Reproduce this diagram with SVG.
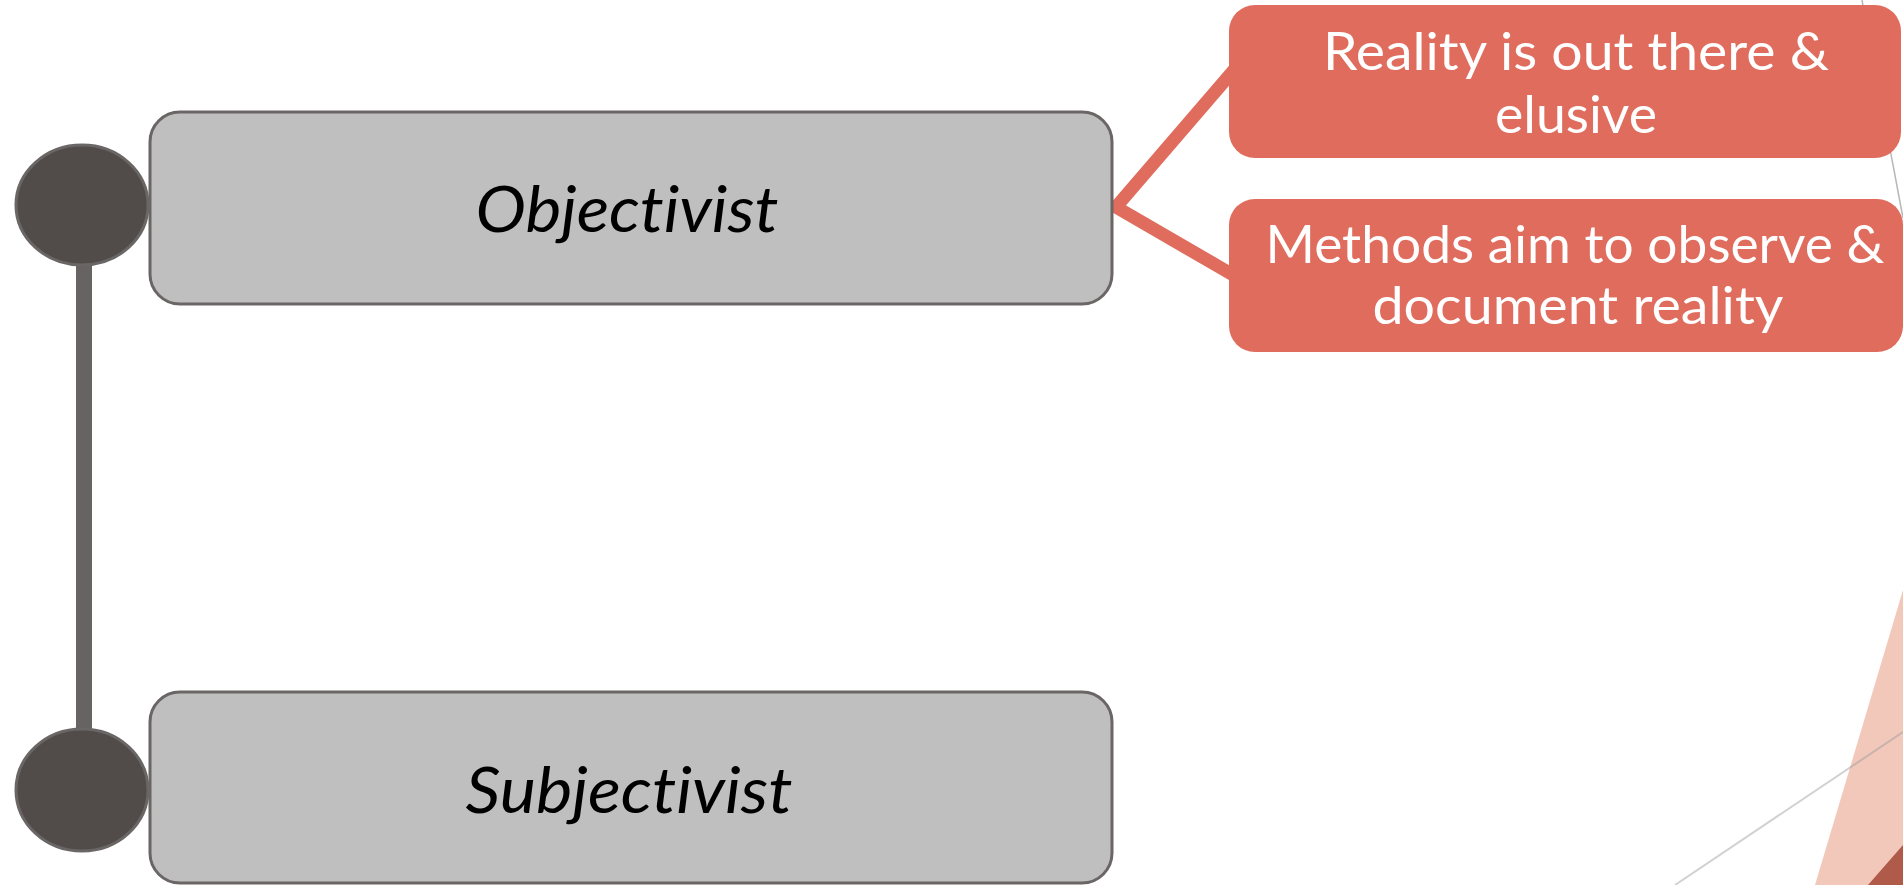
<svg xmlns="http://www.w3.org/2000/svg" width="1903" height="885" viewBox="0 0 1903 885">
  <style>
    .gbox { fill: #bfbfbf; stroke: #6a6665; stroke-width: 3; }
    .dot { fill: #514c4a; stroke: #6a6665; stroke-width: 3; }
    .rbox { fill: #e06c5d; }
    .glabel { font-family: "Lato", "Open Sans", sans-serif; font-style: italic; font-size: 64px; fill: #000000; text-anchor: middle; font-variant-ligatures: none; }
    .rlabel { font-family: "Lato", "Open Sans", sans-serif; font-size: 52px; fill: #ffffff; text-anchor: middle; font-variant-ligatures: none; }
    .redline { fill: none; stroke: #e06c5d; stroke-width: 13; stroke-linejoin: miter; }
  </style>
  <rect x="0" y="0" width="1903" height="885" fill="#ffffff"/>
  <g id="background">
    <line x1="1862" y1="0" x2="1903" y2="218" stroke="#b8b8b8" stroke-width="1.5"/>
    <polygon points="1903,590 1815,885 1903,885" fill="#f2c8bb"/>
    <polygon points="1903,845 1868,885 1903,885" fill="#b05a4a"/>
    <line x1="1903" y1="732" x2="1675" y2="885" stroke="#9a9a9a" stroke-opacity="0.45" stroke-width="2"/>
  </g>
  <g id="connectors">
    <rect x="76" y="262" width="16" height="470" fill="#676362"/>
    <polyline class="redline" points="1240,63 1116,207 1240,279"/>
  </g>
  <g id="node-objectivist-dot">
    <ellipse class="dot" cx="82" cy="205" rx="66" ry="60"/>
  </g>
  <g id="node-subjectivist-dot">
    <ellipse class="dot" cx="82" cy="790" rx="66" ry="61"/>
  </g>
  <g id="node-objectivist">
    <rect class="gbox" x="150" y="112" width="962" height="192" rx="30" ry="30"/>
    <text class="glabel" x="627" y="232" textLength="303" lengthAdjust="spacingAndGlyphs">Objectivist</text>
  </g>
  <g id="node-subjectivist">
    <rect class="gbox" x="150" y="692" width="962" height="191" rx="30" ry="30"/>
    <text class="glabel" x="629" y="813" textLength="327" lengthAdjust="spacingAndGlyphs">Subjectivist</text>
  </g>
  <g id="node-reality">
    <rect class="rbox" x="1229" y="5" width="672" height="153" rx="26" ry="26"/>
    <text class="rlabel" x="1576" y="70" textLength="506" lengthAdjust="spacingAndGlyphs">Reality is out there &amp;</text>
    <text class="rlabel" x="1576" y="133" textLength="162" lengthAdjust="spacingAndGlyphs">elusive</text>
  </g>
  <g id="node-methods">
    <rect class="rbox" x="1229" y="199" width="674" height="153" rx="26" ry="26"/>
    <text class="rlabel" x="1575" y="263" textLength="619" lengthAdjust="spacingAndGlyphs">Methods aim to observe &amp;</text>
    <text class="rlabel" x="1578" y="324" textLength="411" lengthAdjust="spacingAndGlyphs">document reality</text>
  </g>
</svg>
